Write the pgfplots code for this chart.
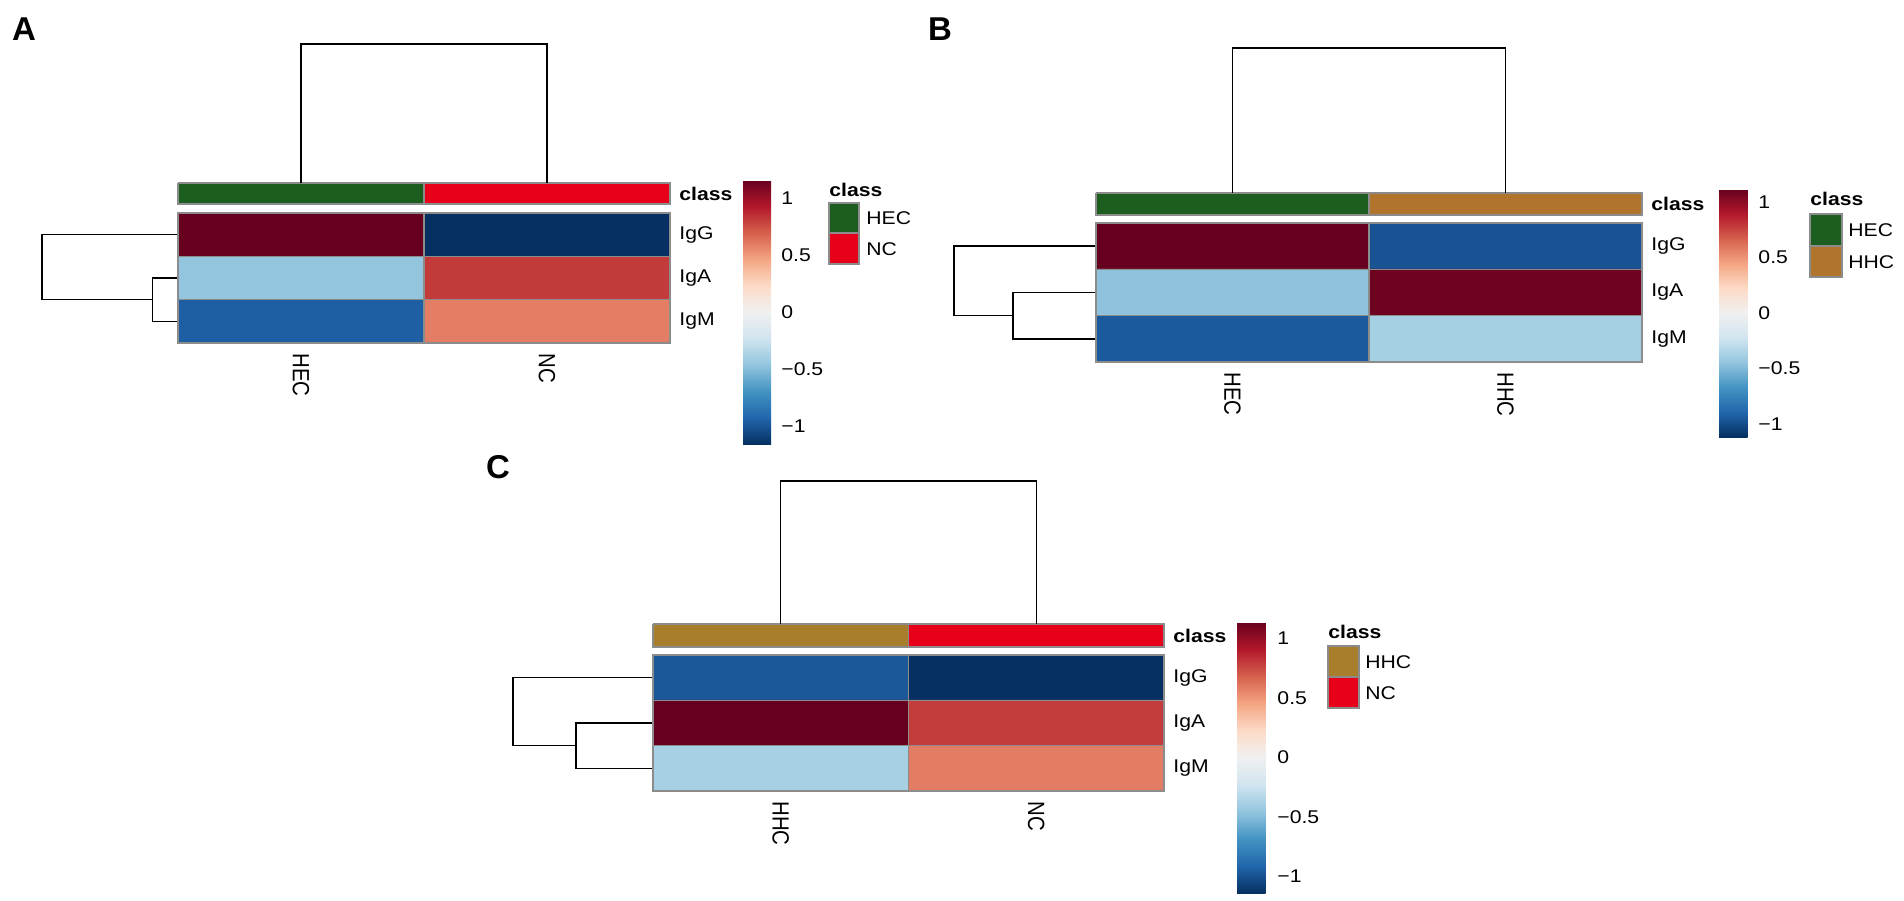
\documentclass[border=0pt]{standalone}
\usepackage{fontspec}
\setmainfont{Liberation Sans}
\usepackage{graphicx}
\usepackage{pgfplots}
\pgfplotsset{compat=1.18}

\definecolor{hec}{RGB}{27,94,32}
\definecolor{nc}{RGB}{232,0,26}
\definecolor{hhcB}{RGB}{176,116,44}
\definecolor{hhcC}{RGB}{168,126,44}
\definecolor{cellgray}{RGB}{140,140,140}

% R output text is a bit wider than tall
\newcommand{\sx}[1]{\scalebox{1.15}[1]{#1}}
\newcommand{\sy}[1]{\scalebox{1}[1.15]{#1}}

\tikzset{classlab/.style={anchor=west, inner xsep=4.5pt, inner ysep=0pt,
    font=\fontsize{9.2}{11}\selectfont}}

\pgfplotsset{
  colormap={rdbu}{rgb255=(5,48,97) rgb255=(33,102,172) rgb255=(67,147,195)
    rgb255=(146,197,222) rgb255=(209,229,240) rgb255=(240,240,240)
    rgb255=(253,219,199) rgb255=(244,165,130) rgb255=(214,96,77)
    rgb255=(178,24,43) rgb255=(103,0,31)},
  heat/.style={
    scale only axis, anchor=north west,
    xmin=-0.5, xmax=1.5, ymin=-0.5, ymax=2.5, y dir=reverse,
    clip=false, axis on top,
    axis line style={draw=cellgray, line width=0.6pt},
    xtick={0,1}, ytick={0,1,2}, yticklabel pos=right,
    yticklabels={\sx{IgG},\sx{IgA},\sx{IgM}},
    major tick length=0pt,
    extra x ticks={0.5}, extra x tick labels={},
    extra y ticks={0.5,1.5}, extra y tick labels={},
    extra tick style={grid=major, major grid style={draw=cellgray, line width=0.6pt}},
    xticklabel style={rotate=-90, anchor=west, inner xsep=5pt, inner ysep=0pt,
      font=\fontsize{10.2}{12}\selectfont},
    yticklabel style={anchor=west, inner xsep=4.5pt, inner ysep=0pt,
      font=\fontsize{9.2}{11}\selectfont},
    colormap name=rdbu,
    colorbar,
    colorbar style={
      at={(parent axis.north east)}, anchor=north west,
      ytick={-1,-0.5,0,0.5,1},
      yticklabels={\sx{−1},\sx{−0.5},\sx{0},\sx{0.5},\sx{1}},
      axis line style={draw=none}, major tick length=0pt,
      yticklabel style={anchor=west, inner sep=0pt, xshift=5pt,
        font=\fontsize{9.2}{11}\selectfont},
    },
  },
  dendro/.style={black, line width=0.7pt, no marks},
}

\begin{document}
\begin{tikzpicture}
\useasboundingbox (0,0) rectangle (952pt,-450pt);

% ---------------- A ----------------
\begin{axis}[heat,
  at={(89pt,-106.5pt)}, width=246pt, height=65pt,
  xticklabels={\sy{HEC},\sy{NC}},
  point meta min=-1.16, point meta max=1.16,
  colorbar style={xshift=28pt, yshift=16.5pt, width=14pt, height=132pt},
]
\addplot[matrix plot*, mesh/cols=2, point meta=explicit] table[meta=c] {
x y c
0 0 1.16
1 0 -1.16
0 1 -0.46
1 1 0.82
0 2 -0.96
1 2 0.60
};
\addplot[fill=hec, draw=cellgray, line width=0.6pt] coordinates {(-0.5,-1.192) (0.5,-1.192) (0.5,-0.708) (-0.5,-0.708) (-0.5,-1.192)};
\addplot[fill=nc, draw=cellgray, line width=0.6pt] coordinates {(0.5,-1.192) (1.5,-1.192) (1.5,-0.708) (0.5,-0.708) (0.5,-1.192)};
\addplot[dendro] coordinates {(0,-1.192) (0,-4.40) (1,-4.40) (1,-1.192)};
\addplot[dendro] coordinates {(-0.5,0) (-1.053,0) (-1.053,1.5) (-0.604,1.5)};
\addplot[dendro] coordinates {(-0.5,1) (-0.604,1) (-0.604,2) (-0.5,2)};
\node[classlab] at (axis cs:1.5,-0.95) {\sx{\textbf{class}}};
\end{axis}

% ---------------- B ----------------
\begin{axis}[heat,
  at={(548pt,-111.5pt)}, width=273pt, height=69.5pt,
  xticklabels={\sy{HEC},\sy{HHC}},
  point meta min=-1.12, point meta max=1.12,
  colorbar style={xshift=30pt, yshift=17pt, width=14.5pt, height=124pt},
]
\addplot[matrix plot*, mesh/cols=2, point meta=explicit] table[meta=c] {
x y c
0 0 1.12
1 0 -0.97
0 1 -0.46
1 1 1.10
0 2 -0.94
1 2 -0.38
};
\addplot[fill=hec, draw=cellgray, line width=0.6pt] coordinates {(-0.5,-1.148) (0.5,-1.148) (0.5,-0.673) (-0.5,-0.673) (-0.5,-1.148)};
\addplot[fill=hhcB, draw=cellgray, line width=0.6pt] coordinates {(0.5,-1.148) (1.5,-1.148) (1.5,-0.673) (0.5,-0.673) (0.5,-1.148)};
\addplot[dendro] coordinates {(0,-1.148) (0,-4.277) (1,-4.277) (1,-1.148)};
\addplot[dendro] coordinates {(-0.5,0) (-1.020,0) (-1.020,1.5) (-0.804,1.5)};
\addplot[dendro] coordinates {(-0.5,1) (-0.804,1) (-0.804,2) (-0.5,2)};
\node[classlab] at (axis cs:1.5,-0.91) {\sx{\textbf{class}}};
\end{axis}

% ---------------- C ----------------
\begin{axis}[heat,
  at={(326.5pt,-327.5pt)}, width=255.5pt, height=68pt,
  xticklabels={\sy{HHC},\sy{NC}},
  point meta min=-1.14, point meta max=1.14,
  colorbar style={xshift=28pt, yshift=16.5pt, width=15pt, height=135.5pt},
]
\addplot[matrix plot*, mesh/cols=2, point meta=explicit] table[meta=c] {
x y c
0 0 -0.97
1 0 -1.14
0 1 1.14
1 1 0.80
0 2 -0.38
1 2 0.59
};
\addplot[fill=hhcC, draw=cellgray, line width=0.6pt] coordinates {(-0.5,-1.184) (0.5,-1.184) (0.5,-0.676) (-0.5,-0.676) (-0.5,-1.184)};
\addplot[fill=nc, draw=cellgray, line width=0.6pt] coordinates {(0.5,-1.184) (1.5,-1.184) (1.5,-0.676) (0.5,-0.676) (0.5,-1.184)};
\addplot[dendro] coordinates {(0,-1.184) (0,-4.338) (1,-4.338) (1,-1.184)};
\addplot[dendro] coordinates {(-0.5,0) (-1.048,0) (-1.048,1.5) (-0.801,1.5)};
\addplot[dendro] coordinates {(-0.5,1) (-0.801,1) (-0.801,2) (-0.5,2)};
\node[classlab] at (axis cs:1.5,-0.93) {\sx{\textbf{class}}};
\end{axis}

% ---------------- legends and panel letters (pixel grid) ----------------
\begin{scope}[x=0.5pt, y=-0.5pt]
  \tikzset{lt/.style={anchor=west, inner sep=0pt, font=\fontsize{9.2}{11}\selectfont},
           sw/.style={draw=cellgray, line width=0.6pt},
           pl/.style={font=\fontsize{16.5}{18}\selectfont\bfseries}}
  % A
  \node[lt] at (829,190) {\sx{\textbf{class}}};
  \filldraw[sw, fill=hec] (829,203) rectangle (859,233);
  \filldraw[sw, fill=nc]  (829,233) rectangle (859,264);
  \node[lt] at (866,218) {\sx{HEC}};
  \node[lt] at (866,249) {\sx{NC}};
  % B
  \node[lt] at (1810,199) {\sx{\textbf{class}}};
  \filldraw[sw, fill=hec]  (1810,214) rectangle (1842,246);
  \filldraw[sw, fill=hhcB] (1810,246) rectangle (1842,277);
  \node[lt] at (1848,230) {\sx{HEC}};
  \node[lt] at (1848,262) {\sx{HHC}};
  % C
  \node[lt] at (1328,632) {\sx{\textbf{class}}};
  \filldraw[sw, fill=hhcC] (1328,646) rectangle (1359,677);
  \filldraw[sw, fill=nc]   (1328,677) rectangle (1359,708);
  \node[lt] at (1365,662) {\sx{HHC}};
  \node[lt] at (1365,693) {\sx{NC}};
  % panel letters
  \node[pl] at (24,29) {A};
  \node[pl] at (940,29) {B};
  \node[pl] at (498,467) {C};
\end{scope}
\end{tikzpicture}
\end{document}
